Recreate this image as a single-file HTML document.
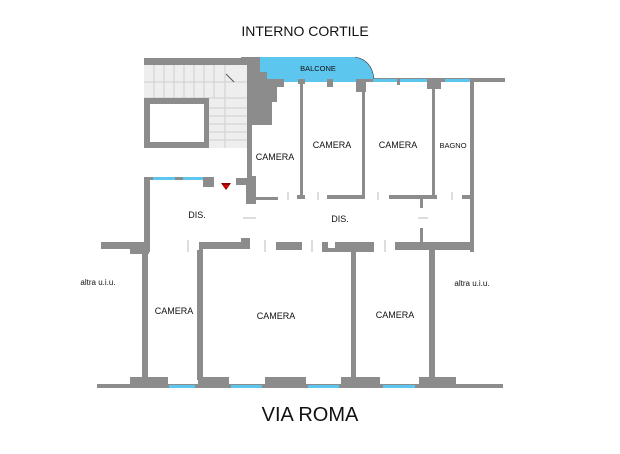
<!DOCTYPE html>
<html><head><style>body{margin:0;background:#fff}svg{display:block}text{font-family:"Liberation Sans",sans-serif;fill:#111}</style></head><body>
<svg width="620" height="454" viewBox="0 0 620 454" xmlns="http://www.w3.org/2000/svg">
<rect width="620" height="454" fill="#fff"/>
<text x="305" y="36" font-size="14" text-anchor="middle">INTERNO CORTILE</text>
<text x="310" y="421" font-size="20" text-anchor="middle">VIA ROMA</text>
<!-- stairs -->
<rect x="144" y="65" width="103" height="83" fill="#eeeeee"/>
<g stroke="#cfcfcf" stroke-width="1">
<line x1="144" y1="82" x2="247" y2="82"/><line x1="144" y1="98" x2="247" y2="98"/>
<line x1="154" y1="65" x2="154" y2="98"/><line x1="164" y1="65" x2="164" y2="98"/><line x1="174" y1="65" x2="174" y2="98"/><line x1="184" y1="65" x2="184" y2="98"/><line x1="194" y1="65" x2="194" y2="98"/><line x1="204" y1="65" x2="204" y2="98"/><line x1="214" y1="65" x2="214" y2="98"/><line x1="225" y1="65" x2="225" y2="148"/>
<line x1="209" y1="108" x2="247" y2="108"/><line x1="209" y1="116" x2="247" y2="116"/><line x1="209" y1="124" x2="247" y2="124"/><line x1="209" y1="132" x2="247" y2="132"/><line x1="209" y1="140" x2="247" y2="140"/>
</g>
<line x1="226" y1="74" x2="234" y2="82" stroke="#555" stroke-width="1"/>
<g fill="#8c8c8c">
<rect x="144" y="58" width="100" height="7"/>
<rect x="144" y="98" width="65" height="50"/>
<polygon points="241,57 260,57 260,72 267,72 267,79 277,79 277,102 272,102 272,125 252,125 252,176 256,176 256,197 278,197 278,200 256,200 256,204 246,204 246,185 236,185 236,178 247,178 247,65 241,65"/>
<!-- top wall -->
<rect x="277" y="78" width="228" height="4"/>
<rect x="276" y="80" width="8" height="7"/>
<rect x="298" y="80" width="7" height="4"/>
<rect x="327" y="80" width="6" height="7"/>
<rect x="356" y="80" width="10" height="12"/>
<rect x="397" y="80" width="3" height="5"/>
<rect x="427" y="80" width="14" height="9"/>
<rect x="300" y="82" width="3" height="115"/>
<rect x="362" y="82" width="3" height="115"/>
<rect x="432" y="82" width="3" height="115"/>
<rect x="470" y="80" width="4" height="172"/>
<!-- corridor top wall -->
<rect x="297" y="195" width="8" height="4"/>
<rect x="327" y="195" width="38" height="4"/>
<rect x="389" y="195" width="48" height="4"/>
<rect x="420" y="199" width="3" height="9"/>
<rect x="420" y="228" width="3" height="14"/>
<rect x="462" y="195" width="10" height="4"/>
<!-- left dis room -->
<rect x="144" y="177" width="70" height="3"/>
<rect x="203" y="177" width="11" height="10"/>
<rect x="144" y="177" width="6" height="75"/>
<!-- corridor bottom wall -->
<rect x="101" y="242" width="48" height="7"/>
<rect x="130" y="242" width="19" height="12"/>
<polygon points="199,242 241,242 241,238 250,238 250,249 203,249 203,254 199,254"/>
<rect x="276" y="242" width="26" height="8"/>
<polygon points="322,242 328,242 328,248 335,248 335,242 374,242 374,252 322,252"/>
<rect x="395" y="242" width="78" height="8"/>
<!-- verticals bottom -->
<rect x="142" y="250" width="6" height="130"/>
<rect x="197" y="250" width="6" height="130"/>
<rect x="351" y="250" width="5" height="130"/>
<rect x="429" y="250" width="6" height="130"/>
<!-- bottom wall -->
<rect x="97" y="384" width="406" height="4"/>
<rect x="130" y="377" width="38" height="11"/>
<rect x="198" y="377" width="31" height="11"/>
<rect x="265" y="377" width="41" height="11"/>
<rect x="341" y="377" width="39" height="11"/>
<rect x="419" y="377" width="37" height="11"/>
</g>
<rect x="150" y="104" width="54" height="38" fill="#fff"/>
<!-- balcone -->
<path d="M260,57 H355 Q372,60 374,79 H267 V72 H260 Z" fill="#5cc6ef"/>
<path d="M355,57 Q372,60 374,79" fill="none" stroke="#333" stroke-width="0.6"/>
<text x="318" y="71" font-size="7.5" text-anchor="middle">BALCONE</text>
<!-- windows -->
<g fill="#5cc6ef">
<rect x="284" y="79" width="14" height="3"/><rect x="305" y="79" width="22" height="3"/><rect x="333" y="79" width="23" height="3"/>
<rect x="373" y="79" width="24" height="3"/><rect x="400" y="79" width="27" height="3"/><rect x="445" y="79" width="25" height="3"/>
<rect x="153" y="177" width="22" height="3"/><rect x="183" y="177" width="20" height="3"/>
<rect x="169" y="385" width="26" height="3"/><rect x="231" y="385" width="31" height="3"/><rect x="308" y="385" width="31" height="3"/><rect x="383" y="385" width="32" height="3"/>
</g>
<!-- door marks -->
<g stroke="#bbb" stroke-width="1">
<line x1="288" y1="192" x2="288" y2="200"/><line x1="318" y1="192" x2="318" y2="200"/><line x1="378" y1="192" x2="378" y2="200"/><line x1="452" y1="192" x2="452" y2="200"/>
<line x1="243" y1="218" x2="256" y2="218"/><line x1="418" y1="218" x2="428" y2="218"/>
<line x1="188" y1="240" x2="188" y2="252"/><line x1="265" y1="240" x2="265" y2="252"/><line x1="312" y1="240" x2="312" y2="252"/><line x1="385" y1="240" x2="385" y2="252"/>
</g>
<polygon points="221,183 231,183 226,190" fill="#8b0000"/><polygon points="223,185 229,185 226,188" fill="#e00"/>
<g font-size="9" text-anchor="middle">
<text x="275" y="160">CAMERA</text><text x="332" y="148">CAMERA</text><text x="398" y="148">CAMERA</text>
<text x="453" y="148" font-size="7.5">BAGNO</text>
<text x="197" y="218">DIS.</text><text x="340" y="222">DIS.</text>
<text x="174" y="314">CAMERA</text><text x="276" y="319">CAMERA</text><text x="395" y="318">CAMERA</text>
<text x="98" y="285" font-size="8">altra u.i.u.</text><text x="472" y="286" font-size="8">altra u.i.u.</text>
</g>
</svg>
</body></html>
